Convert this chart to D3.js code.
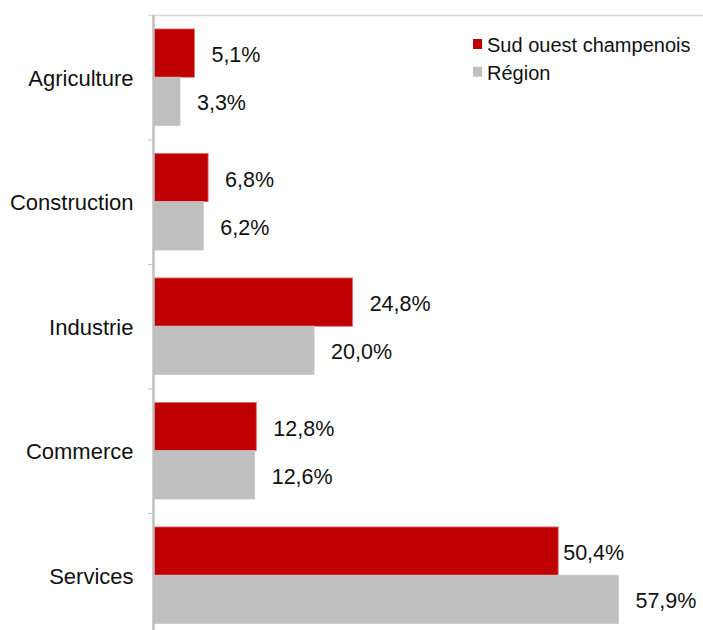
<!DOCTYPE html>
<html>
<head>
<meta charset="utf-8">
<script src="https://cdn.jsdelivr.net/npm/d3@7"></script>
<style>
  html, body { margin: 0; padding: 0; background: #fff; }
  svg { display: block; font-family: "Liberation Sans", Arial, sans-serif; }
</style>
</head>
<body>
<svg id="chart" width="703" height="630"></svg>
<script>
// ---- data ----
const categories = ["Agriculture", "Construction", "Industrie", "Commerce", "Services"];
const seriesNames = ["Sud ouest champenois", "Région"];
const sudOuest = [5.1, 6.8, 24.8, 12.8, 50.4];
const region = [3.3, 6.2, 20.0, 12.6, 57.9];
const valueLabels = [
  ["5,1%", "6,8%", "24,8%", "12,8%", "50,4%"],
  ["3,3%", "6,2%", "20,0%", "12,6%", "57,9%"]
];

// ---- layout / style ----
const colors = ["#c00000", "#bfbfbf"];
const strokes = ["#e07272", "#c8c8c8"];
const W = 703, H = 630;
const x0 = 153.5, pxPerPct = 8.03;
const svg = d3.select("#chart");

const x = d3.scaleLinear().domain([0, 60]).range([x0, x0 + 60 * pxPerPct]);
const y = d3.scaleBand().domain(categories).range([15, 637.5]).padding(0);
const groupH = y.bandwidth() * 0.776;
const yInner = d3.scaleBand().domain([0, 1])
  .range([(y.bandwidth() - groupH) / 2, (y.bandwidth() + groupH) / 2]).padding(0);

const series = [sudOuest, region];

// top border line
svg.append("line")
  .attr("x1", 148).attr("x2", W).attr("y1", 15.5).attr("y2", 15.5)
  .attr("stroke", "#d9d9d9").attr("stroke-width", 1.5);

// bars
series.forEach((vals, s) => {
  svg.append("g").selectAll("rect")
    .data(vals)
    .join("rect")
    .attr("x", x(0))
    .attr("y", (d, i) => y(categories[i]) + yInner(s))
    .attr("width", d => x(d) - x(0))
    .attr("height", yInner.bandwidth())
    .attr("fill", colors[s])
    .attr("stroke", strokes[s])
    .attr("stroke-width", 0.8);
});

// value labels
const labelGap = 17;
const nudge = { "0-4": -12 }; // label of 50,4% sits closer to its bar
series.forEach((vals, s) => {
  svg.append("g").selectAll("text")
    .data(vals)
    .join("text")
    .attr("x", (d, i) => x(d) + labelGap + (nudge[s + "-" + i] || 0))
    .attr("y", (d, i) => y(categories[i]) + yInner(s) + yInner.bandwidth() / 2 + 1.5)
    .attr("dy", "0.35em")
    .attr("font-size", 21.5)
    .attr("fill", "#111")
    .text((d, i) => valueLabels[s][i]);
});

// y axis
const axis = d3.axisLeft(y).tickSize(0).tickPadding(0);
const gAxis = svg.append("g").attr("transform", `translate(${x0},1.5)`).call(axis);
gAxis.select(".domain").remove();
gAxis.selectAll("text")
  .attr("x", -20)
  .attr("font-size", 22)
  .attr("fill", "#111")
  .attr("font-family", "Liberation Sans, Arial, sans-serif");

svg.append("line")
  .attr("x1", x0).attr("x2", x0).attr("y1", 15).attr("y2", H)
  .attr("stroke", "#bfbfbf").attr("stroke-width", 2.5);

// category boundary ticks
const boundaries = categories.slice(1).map(c => y(c));
svg.append("g").selectAll("line")
  .data(boundaries)
  .join("line")
  .attr("x1", 148).attr("x2", x0)
  .attr("y1", d => d + 0.5).attr("y2", d => d + 0.5)
  .attr("stroke", "#bfbfbf").attr("stroke-width", 1);

// legend
const legend = svg.append("g");
seriesNames.forEach((name, s) => {
  const by = 52.3 + s * 27.7;
  legend.append("rect")
    .attr("x", 473).attr("y", by - 13.3).attr("width", 9).attr("height", 10)
    .attr("fill", colors[s]);
  legend.append("text")
    .attr("x", 487).attr("y", by)
    .attr("font-size", 20)
    .attr("fill", "#111")
    .text(name);
});
</script>
</body>
</html>
